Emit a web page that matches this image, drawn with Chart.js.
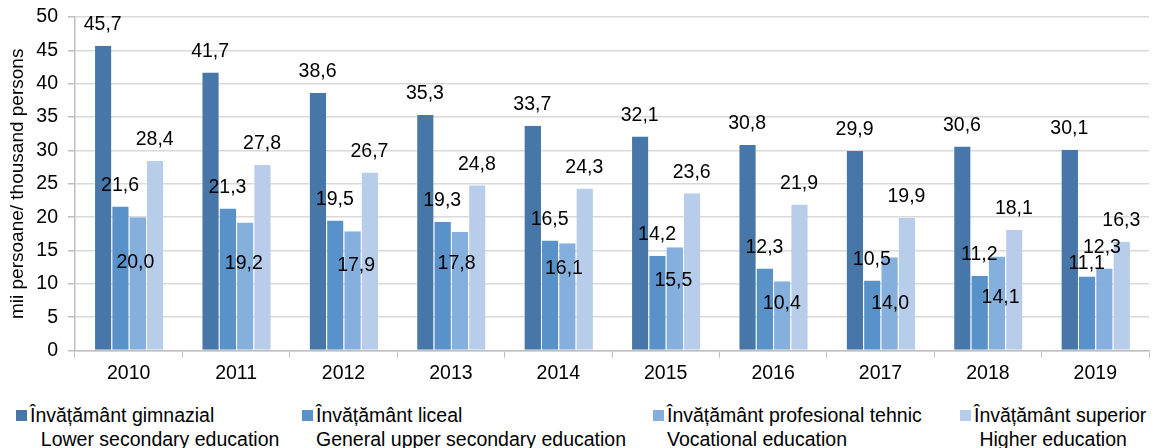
<!DOCTYPE html>
<html>
<head>
<meta charset="utf-8">
<script src="https://cdn.jsdelivr.net/npm/chart.js@4/dist/chart.umd.min.js"></script>
<style>
  body { margin: 0; background: #fff; font-family: "Liberation Sans", Arial, sans-serif; }
  #wrap { position: relative; width: 1157px; height: 448px; }
  #chartBox { position: absolute; left: 0; top: 0; width: 1157px; height: 392px; }
  #legend { position: absolute; left: 0; top: 403px; width: 1157px; height: 45px; font-size: 19.5px; color: #000; }
  .item { position: absolute; top: 0; white-space: pre; line-height: 24px; }
  .item .mark { position: absolute; left: 0; top: 7px; width: 11px; height: 11px; }
  .item .txt { position: absolute; left: 14px; top: 0; }
</style>
</head>
<body>
<div id="wrap">
  <div id="chartBox"><canvas id="chart"></canvas></div>
  <div id="legend"></div>
</div>
<script>
const years = ['2010', '2011', '2012', '2013', '2014', '2015', '2016', '2017', '2018', '2019'];
const gimnazial = [45.7, 41.7, 38.6, 35.3, 33.7, 32.1, 30.8, 29.9, 30.6, 30.1];
const liceal = [21.6, 21.3, 19.5, 19.3, 16.5, 14.2, 12.3, 10.5, 11.2, 11.1];
const profesional = [20.0, 19.2, 17.9, 17.8, 16.1, 15.5, 10.4, 14.0, 14.1, 12.3];
const superior = [28.4, 27.8, 26.7, 24.8, 24.3, 23.6, 21.9, 19.9, 18.1, 16.3];
const yTicks = [0, 5, 10, 15, 20, 25, 30, 35, 40, 45, 50];

const seriesNames = [
  ['Învățământ gimnazial', '  Lower secondary education'],
  ['Învățământ liceal', 'General upper secondary education'],
  ['Învățământ profesional tehnic', 'Vocational education'],
  ['Învățământ superior', ' Higher education']
];
const colors = ['#4677a8', '#5892c9', '#85afdc', '#b8cde9'];

const FONT = '"Liberation Sans", Arial, sans-serif';

// manual nudges of the value labels (px), like the hand placed labels in the original
const labelNudgeX = [
  [0, 0, 0, 0, 0, 0, 0, 0, 0, 0],
  [0, 0, 0, 0, 0, 0, 0, 0, 0, 0],
  [-2, -1, 4, -3, -3, -1, 0, 1, 4, -2],
  [0, 0, 0, 0, 0, 0, 0, 0, 0, 0]
];
const labelNudgeY = [
  [0, 0, 0, 0, 0, 0, 0, 0, 0, 0],
  [0, 0, 0, 0, 0, 0, 0, 0, 0, 8],
  [66, 62, 55, 53, 46, 54, 43, 67, 62, 0],
  [0, 0, 0, 0, 0, 0, 0, 0, 0, 0]
];

const valueLabels = {
  id: 'valueLabels',
  afterDatasetsDraw(chart) {
    const ctx = chart.ctx;
    ctx.save();
    ctx.font = '19.5px ' + FONT;
    ctx.fillStyle = '#000';
    ctx.textAlign = 'center';
    ctx.textBaseline = 'middle';
    chart.data.datasets.forEach((ds, i) => {
      chart.getDatasetMeta(i).data.forEach((bar, j) => {
        const txt = ds.data[j].toFixed(1).replace('.', ',');
        ctx.fillText(txt, bar.x + labelNudgeX[i][j], bar.y - 21 + labelNudgeY[i][j]);
      });
    });
    ctx.restore();
  }
};

const allSeries = [gimnazial, liceal, profesional, superior];

new Chart(document.getElementById('chart'), {
  type: 'bar',
  data: {
    labels: years,
    datasets: allSeries.map((values, i) => ({
      label: seriesNames[i].join(' '),
      data: values,
      backgroundColor: colors[i],
      borderColor: 'rgba(255,255,255,0.35)',
      borderWidth: { left: 1, right: 0, top: 0, bottom: 0 },
      borderSkipped: 'start',
      barPercentage: 1,
      categoryPercentage: 0.645
    }))
  },
  options: {
    responsive: true,
    maintainAspectRatio: false,
    animation: false,
    layout: { padding: { top: 17, right: 8, bottom: 3, left: 0 } },
    plugins: {
      legend: { display: false },
      tooltip: { enabled: false }
    },
    scales: {
      x: {
        grid: { display: true, drawOnChartArea: false, offset: true, tickLength: 7, tickColor: '#bfbfbf' },
        border: { color: '#bfbfbf', width: 1.5 },
        ticks: { color: '#000', font: { size: 19.5, family: FONT }, padding: 4 }
      },
      y: {
        min: 0,
        max: 50,
        afterBuildTicks(scale) { scale.ticks = yTicks.map(v => ({ value: v })); },
        afterFit(scale) { scale.width = 75; scale.paddingTop = 0; },
        grid: { color: '#d9d9d9', lineWidth: 1.5, tickLength: 7, tickColor: '#bfbfbf' },
        border: { color: '#bfbfbf', width: 1.5 },
        ticks: { color: '#000', font: { size: 19.5, family: FONT }, padding: 10 },
        title: {
          display: true,
          text: 'mii persoane/ thousand persons',
          color: '#000',
          font: { size: 19, family: FONT },
          padding: { top: 6, bottom: 0 }
        }
      }
    }
  },
  plugins: [valueLabels]
});

const legendX = [16, 302, 653, 960];
const legend = document.getElementById('legend');
legend.innerHTML = seriesNames.map((name, i) => `
  <div class="item" style="left:${legendX[i]}px">
    <div class="mark" style="background:${colors[i]}"></div>
    <div class="txt">${name[0]}<br>${name[1]}</div>
  </div>`).join('');
</script>
</body>
</html>
